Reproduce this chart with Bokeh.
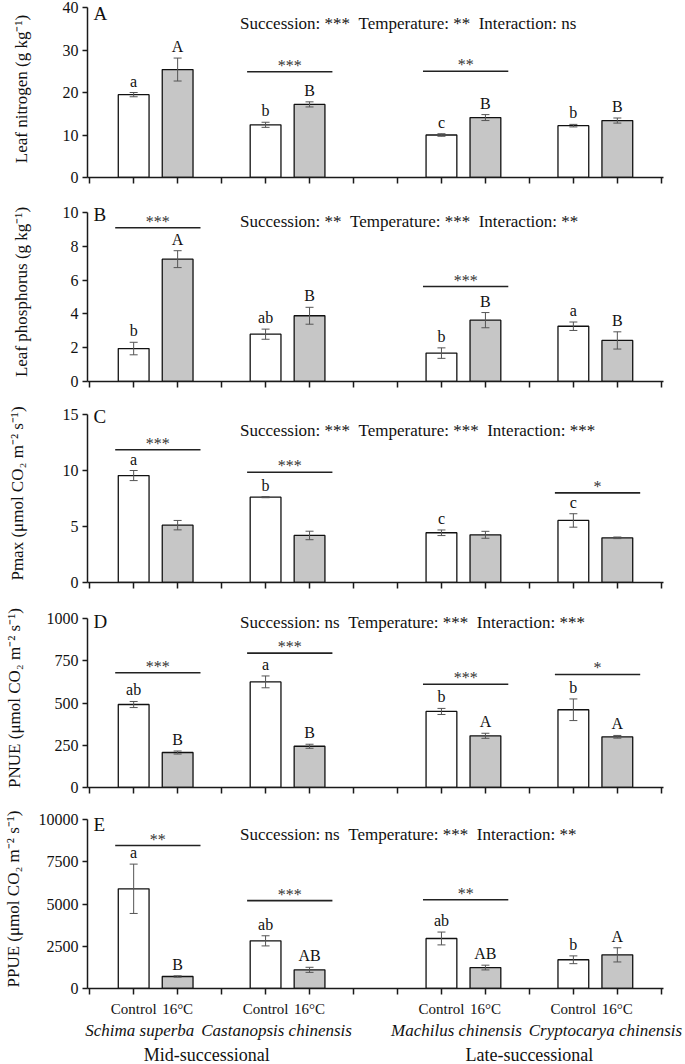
from bokeh.plotting import figure
from bokeh.models import ColumnDataSource, Whisker, TeeHead, FixedTicker, LinearAxis, Range1d, Label
from bokeh.layouts import column
from bokeh.embed import file_html
from bokeh.resources import INLINE
from bokeh.core.properties import value

# ---------------- data ----------------
species = ["Schima superba", "Castanopsis chinensis", "Machilus chinensis", "Cryptocarya chinensis"]
treatments = ["Control", "16°C"]
stages = ["Mid-successional", "Late-successional"]

# order: Schima C, Schima 16, Castanopsis C, Castanopsis 16, Machilus C, Machilus 16, Cryptocarya C, Cryptocarya 16
nitrogen_mean = [19.5, 25.4, 12.4, 17.2, 10.0, 14.1, 12.2, 13.4]
nitrogen_se = [0.5, 2.7, 0.6, 0.6, 0.3, 0.7, 0.3, 0.6]
nitrogen_letters = ["a", "A", "b", "B", "c", "B", "b", "B"]
nitrogen_sig = ["", "***", "**", ""]
nitrogen_anova = ["***", "**", "ns"]
nitrogen_ticks = [0, 10, 20, 30, 40]

phosphorus_mean = [1.95, 7.24, 2.8, 3.89, 1.68, 3.63, 3.27, 2.43]
phosphorus_se = [0.37, 0.5, 0.3, 0.5, 0.31, 0.45, 0.25, 0.51]
phosphorus_letters = ["b", "A", "ab", "B", "b", "B", "a", "B"]
phosphorus_sig = ["***", "", "***", ""]
phosphorus_anova = ["**", "***", "**"]
phosphorus_ticks = [0, 2, 4, 6, 8, 10]

pmax_mean = [9.55, 5.12, 7.62, 4.2, 4.44, 4.26, 5.54, 3.99]
pmax_se = [0.45, 0.42, 0.05, 0.38, 0.25, 0.31, 0.6, 0.07]
pmax_letters = ["a", "", "b", "", "c", "", "c", ""]
pmax_sig = ["***", "***", "", "*"]
pmax_anova = ["***", "***", "***"]
pmax_ticks = [0, 5, 10, 15]

pnue_mean = [491, 207, 625, 244, 450, 306, 460, 300]
pnue_se = [18, 9, 35, 12, 18, 15, 64, 8]
pnue_letters = ["ab", "B", "a", "B", "b", "A", "b", "A"]
pnue_sig = ["***", "***", "***", "*"]
pnue_anova = ["ns", "***", "***"]
pnue_ticks = [0, 250, 500, 750, 1000]

ppue_mean = [5900, 710, 2820, 1105, 2960, 1240, 1700, 1990]
ppue_se = [1460, 40, 300, 150, 380, 140, 230, 420]
ppue_letters = ["a", "B", "ab", "AB", "ab", "AB", "b", "A"]
ppue_sig = ["**", "***", "**", ""]
ppue_anova = ["ns", "***", "**"]
ppue_ticks = [0, 2500, 5000, 7500, 10000]

# ---------------- layout ----------------
FONT = "Liberation Serif"
group_start = [1, 4, 8, 11]
bar_x = [g + k for g in group_start for k in range(2)]
species_label_x = [1.14, 4.25, 8.34, 11.73]
stage_label_x = [2.66, 10.0]
fills = ["white", "#c6c6c6"] * 4

# main: px from top tick to zero; ext: px of frame above the top tick; bottom: border below
panels = [
    dict(tag="A", ylabel="Leaf nitrogen (g kg\u207b\u00b9)", mean=nitrogen_mean, se=nitrogen_se,
         letters=nitrogen_letters, sig=nitrogen_sig, anova=nitrogen_anova, ticks=nitrogen_ticks,
         sig_y=[None, 24.9, 25.0, None], text_dy=16, tag_dy=5.5, lab_st=29,
         main=170, ext=7, bottom=25),
    dict(tag="B", ylabel="Leaf phosphorus (g kg\u207b\u00b9)", mean=phosphorus_mean, se=phosphorus_se,
         letters=phosphorus_letters, sig=phosphorus_sig, anova=phosphorus_anova, ticks=phosphorus_ticks,
         sig_y=[9.1, None, 5.62, None], text_dy=9, tag_dy=2, lab_st=29,
         main=169, ext=10, bottom=23),
    dict(tag="C", ylabel="Pmax (\u03bcmol CO\u2082 m\u207b\u00b2 s\u207b\u00b9)", mean=pmax_mean, se=pmax_se,
         letters=pmax_letters, sig=pmax_sig, anova=pmax_anova, ticks=pmax_ticks,
         sig_y=[11.85, 9.85, None, 8.0], text_dy=15.5, tag_dy=2, lab_st=33,
         main=168, ext=10, bottom=26),
    dict(tag="D", ylabel="PNUE (\u03bcmol CO\u2082 m\u207b\u00b2 s\u207b\u00b9)", mean=pnue_mean, se=pnue_se,
         letters=pnue_letters, sig=pnue_sig, anova=pnue_anova, ticks=pnue_ticks,
         sig_y=[679, 795, 611, 669], text_dy=3.5, tag_dy=2.5, lab_st=20,
         main=169, ext=10, bottom=22),
    dict(tag="E", ylabel="PPUE (\u03bcmol CO\u2082 m\u207b\u00b2 s\u207b\u00b9)", mean=ppue_mean, se=ppue_se,
         letters=ppue_letters, sig=ppue_sig, anova=ppue_anova, ticks=ppue_ticks,
         sig_y=[8460, 5200, 5250, None], text_dy=14.5, tag_dy=4.5, lab_st=13,
         main=169, ext=10, bottom=60),
]

AX_COLOR = "#1a1a1a"
TXT = "#111111"


def make_panel(cfg, last):
    ymax = cfg["ticks"][-1]
    ytop = ymax * (cfg["main"] + cfg["ext"]) / cfg["main"]
    p = figure(frame_width=576, frame_height=cfg["main"] + cfg["ext"],
               x_range=Range1d(-0.05, 13.05), y_range=Range1d(0, ytop),
               output_backend="svg", toolbar_location=None,
               min_border_left=84, min_border_right=24,
               min_border_top=0, min_border_bottom=cfg["bottom"])
    p.grid.visible = False
    p.outline_line_color = None

    upper = [m + s for m, s in zip(cfg["mean"], cfg["se"])]
    lower = [m - s for m, s in zip(cfg["mean"], cfg["se"])]
    src = ColumnDataSource(dict(x=bar_x, mean=cfg["mean"], upper=upper, lower=lower,
                                fill=fills, letter=cfg["letters"]))
    p.vbar(x="x", top="mean", bottom=0, width=0.7, fill_color="fill", line_color="#111111",
           line_width=1.3, source=src)
    w = Whisker(base="x", upper="upper", lower="lower", source=src, line_color="#555555", line_width=1,
                upper_head=TeeHead(size=8, line_color="#555555", line_width=1),
                lower_head=TeeHead(size=8, line_color="#555555", line_width=1), level="overlay")
    p.add_layout(w)
    p.text(x="x", y="upper", text="letter", source=src, y_offset=-3, text_align="center",
           text_baseline="bottom", text_font=value(FONT), text_font_size="16px", text_color=TXT)

    # significance lines
    sx0, sx1, sy, sxm, stx = [], [], [], [], []
    for g, s, yy in zip(group_start, cfg["sig"], cfg["sig_y"]):
        if s and yy is not None:
            c = g + 0.55
            sx0.append(c - 0.97)
            sx1.append(c + 0.97)
            sy.append(yy)
            sxm.append(c)
            stx.append(s)
    ssrc = ColumnDataSource(dict(x0=sx0, x1=sx1, y=sy, xm=sxm, t=stx))
    p.segment(x0="x0", x1="x1", y0="y", y1="y", source=ssrc, line_color="#222222", line_width=1.6)
    p.text(x="xm", y="y", text="t", source=ssrc, y_offset=2, text_align="center",
           text_baseline="bottom", text_font=value(FONT), text_font_size="16px", text_color="#333333")

    # panel tag and anova text
    p.add_layout(Label(x=-0.05, y=ymax, x_offset=6, y_offset=-cfg["tag_dy"], text=cfg["tag"],
                       text_align="left", text_baseline="middle", text_font=FONT,
                       text_font_size="19px", text_color=TXT))
    a = cfg["anova"]
    txt = f"Succession: {a[0]} \u00a0Temperature: {a[1]} \u00a0Interaction: {a[2]}"
    p.add_layout(Label(x=3.42, y=ymax, y_offset=-cfg["text_dy"], text=txt, text_align="left",
                       text_baseline="middle", text_font=FONT, text_font_size="17px",
                       text_color=TXT))

    # y axis
    ya = p.yaxis[0]
    ya.bounds = (0, ymax)
    ya.ticker = FixedTicker(ticks=cfg["ticks"], minor_ticks=[])
    ya.axis_line_color = AX_COLOR
    ya.axis_line_width = 1.5
    ya.major_tick_line_color = AX_COLOR
    ya.major_tick_line_width = 1.5
    ya.major_tick_out = 5
    ya.major_tick_in = 0
    ya.minor_tick_line_color = None
    ya.major_label_standoff = 4
    ya.major_label_text_font = FONT
    ya.major_label_text_font_size = "16px"
    ya.major_label_text_color = TXT
    ya.axis_label = cfg["ylabel"]
    ya.axis_label_text_font = FONT
    ya.axis_label_text_font_size = "17px"
    ya.axis_label_text_font_style = "normal"
    ya.axis_label_text_color = TXT
    ya.axis_label_standoff = cfg["lab_st"]

    # x axis
    xa = p.xaxis[0]
    xa.ticker = FixedTicker(ticks=list(range(14)), minor_ticks=[])
    xa.axis_line_color = AX_COLOR
    xa.axis_line_width = 1.5
    xa.major_tick_line_color = AX_COLOR
    xa.major_tick_line_width = 1.5
    xa.major_tick_out = 6
    xa.major_tick_in = 0
    xa.minor_tick_line_color = None
    xa.major_label_text_font = FONT
    xa.major_label_text_color = TXT
    if last:
        ov = {i: "" for i in range(14)}
        for i, x in enumerate(bar_x):
            ov[x] = treatments[i % 2]
        xa.major_label_overrides = ov
        xa.major_label_text_font_size = "15px"
        xa.major_label_standoff = 6

        ax2 = LinearAxis(ticker=FixedTicker(ticks=species_label_x, minor_ticks=[]),
                         major_label_overrides={x: n for x, n in zip(species_label_x, species)},
                         axis_line_color=None, major_tick_line_color=None, minor_tick_line_color=None,
                         major_tick_out=0, major_tick_in=0, major_label_standoff=1,
                         major_label_text_font=FONT, major_label_text_font_style="italic",
                         major_label_text_font_size="17px", major_label_text_color=TXT)
        p.add_layout(ax2, "below")
        ax3 = LinearAxis(ticker=FixedTicker(ticks=stage_label_x, minor_ticks=[]),
                         major_label_overrides={x: n for x, n in zip(stage_label_x, stages)},
                         axis_line_color=None, major_tick_line_color=None, minor_tick_line_color=None,
                         major_tick_out=0, major_tick_in=0, major_label_standoff=2,
                         major_label_text_font=FONT,
                         major_label_text_font_size="18px", major_label_text_color=TXT)
        p.add_layout(ax3, "below")
    else:
        xa.major_label_overrides = {i: "" for i in range(14)}
        xa.major_label_text_font_size = "0px"
        xa.major_label_standoff = 0
    return p


figs = [make_panel(cfg, i == len(panels) - 1) for i, cfg in enumerate(panels)]
layout = column(*figs, spacing=0)
open("out.html", "w").write(file_html(layout, INLINE))
